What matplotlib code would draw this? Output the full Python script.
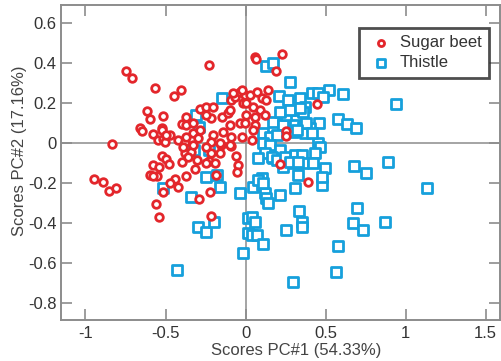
import numpy as np
import matplotlib.pyplot as plt

plt.rcParams['font.family'] = ['Liberation Sans', 'DejaVu Sans']

# PCA scores, sugar beet samples
beet_pc1 = [-0.228, -0.744, -0.709, -0.565, -0.403, -0.446, -0.617, -0.596, -0.513, -0.659,
            -0.646, -0.581, -0.521, -0.548, -0.513, -0.471, -0.836, -0.394, -0.425, -0.521,
            -0.500, -0.481, -0.575, -0.400, -0.598, -0.556, -0.442, -0.373, -0.948, -0.890,
            -0.856, -0.811, -0.542, -0.578, -0.515, -0.561, -0.540, -0.473, -0.421, -0.292,
            -0.225, -0.215, -0.504, -0.379, -0.338, -0.306, -0.313, -0.186, -0.213, -0.228,
            -0.192, -0.161, -0.156, -0.092, -0.061, -0.046, -0.053, -0.525, -0.494, -0.369,
            -0.369, -0.328, -0.328, -0.286, -0.296, -0.286, -0.244, -0.203, -0.213, -0.150,
            -0.140, -0.098, -0.109, -0.088, -0.067, -0.036, -0.004, -0.015, -0.036, -0.025,
            -0.088, -0.203, -0.213, -0.161, -0.379, -0.244, -0.328, -0.098, 0.058, 0.064,
            0.225, 0.189, 0.448, 0.027, 0.069, 0.100, 0.141, 0.131, 0.006, 0.048,
            0.089, 0.006, 0.058, 0.121, -0.004, 0.058, 0.048, 0.038, 0.256, 0.256,
            0.214, 0.391, -0.369, -0.390, -0.359, -0.244, -0.025, -0.078, -0.098, -0.244]
beet_pc2 = [0.390, 0.362, 0.325, 0.277, 0.264, 0.235, 0.162, 0.120, 0.134, 0.074,
            0.062, 0.044, 0.077, 0.015, 0.019, 0.040, -0.005, 0.094, 0.015, -0.065,
            -0.082, -0.105, -0.112, -0.095, -0.160, -0.165, -0.182, -0.164, -0.179, -0.197,
            -0.239, -0.227, -0.118, -0.165, -0.244, -0.305, -0.369, -0.202, -0.222, -0.279,
            -0.245, -0.365, 0.007, -0.052, -0.044, -0.085, -0.132, -0.160, -0.052, -0.089,
            -0.099, -0.052, -0.010, -0.015, -0.065, -0.110, -0.147, 0.065, 0.040, 0.132,
            0.090, 0.099, 0.049, 0.065, 0.024, 0.169, 0.182, 0.179, 0.124, 0.132,
            0.057, 0.090, 0.149, 0.215, 0.232, 0.257, 0.240, 0.199, 0.099, 0.032,
            0.032, 0.040, 0.007, -0.002, 0.007, -0.018, -0.010, -0.010, 0.432, 0.420,
            0.445, 0.360, 0.194, 0.240, 0.257, 0.224, 0.265, 0.215, 0.199, 0.182,
            0.165, 0.140, 0.132, 0.140, 0.099, 0.090, 0.065, 0.015, 0.060, 0.035,
            -0.105, -0.194, 0.032, -0.018, -0.068, -0.101, 0.265, 0.249, 0.165, 0.140]

# PCA scores, thistle samples
thistle_pc1 = [-0.144, -0.310, -0.290, -0.321, -0.228, -0.244, -0.181, -0.161, -0.338, -0.036,
               -0.515, -0.296, -0.244, -0.196, -0.431, -0.015, 0.016, 0.016, 0.048, 0.100,
               0.121, 0.131, 0.141, 0.214, 0.308, 0.038, 0.058, 0.038, 0.069, 0.110,
               0.256, 0.335, 0.356, 0.350, 0.294, 0.475, 1.131, 0.694, 0.673, 0.735,
               0.871, 0.579, 0.564, 0.127, 0.173, 0.277, 0.938, 0.210, 0.266, 0.339,
               0.413, 0.454, 0.521, 0.606, 0.485, 0.371, 0.246, 0.319, 0.360, 0.460,
               0.579, 0.635, 0.689, 0.173, 0.235, 0.308, 0.360, 0.402, 0.298, 0.371,
               0.454, 0.464, 0.433, 0.110, 0.152, 0.194, 0.110, 0.152, 0.214, 0.121,
               0.079, 0.173, 0.256, 0.308, 0.350, 0.298, 0.360, 0.423, 0.235, 0.496,
               0.677, 0.752, 0.891, 0.100, 0.329, 0.475, 0.256, 0.381, 0.319, 0.413,
               0.163, 0.194, 0.246, 0.277, 0.329, 0.079, 0.110, 0.214, 0.277, 0.339]
thistle_pc2 = [0.224, 0.140, 0.080, -0.035, -0.035, -0.169, -0.160, -0.218, -0.272, -0.252,
               -0.227, -0.419, -0.444, -0.397, -0.635, -0.552, -0.452, -0.377, -0.218, -0.210,
               -0.252, -0.277, -0.302, -0.260, -0.227, -0.372, -0.394, -0.460, -0.460, -0.507,
               -0.435, -0.339, -0.394, -0.419, -0.697, -0.210, -0.227, -0.327, -0.402, -0.435,
               -0.394, -0.514, -0.647, 0.385, 0.402, 0.307, 0.194, 0.237, 0.215, 0.224,
               0.249, 0.249, 0.265, 0.244, 0.232, 0.182, 0.149, 0.165, 0.157, 0.102,
               0.120, 0.094, 0.074, 0.107, 0.090, 0.090, 0.082, 0.074, 0.057, 0.049,
               -0.002, -0.018, -0.052, 0.049, 0.032, 0.040, -0.002, -0.010, -0.035, -0.052,
               -0.077, -0.077, -0.085, -0.060, -0.060, -0.102, -0.102, -0.102, -0.119, -0.127,
               -0.114, -0.149, -0.097, -0.177, -0.160, -0.169, 0.140, 0.099, 0.065, 0.049,
               -0.068, -0.085, -0.068, -0.094, -0.094, -0.185, -0.202, 0.157, 0.165, 0.174]

x_ticks = [-1, -0.5, 0, 0.5, 1, 1.5]
y_ticks = [-0.8, -0.6, -0.4, -0.2, 0, 0.2, 0.4, 0.6]

red = '#e3262b'
blue = '#16a0dc'
axis_grey = '#8c8c8c'

fig = plt.figure(figsize=(5.02, 3.61), dpi=100)
ax = fig.add_axes([0.1215, 0.1136, 0.8745, 0.8724])

ax.axhline(0, color=axis_grey, lw=1.1, zorder=0)
ax.axvline(0, color=axis_grey, lw=1.1, zorder=0)

ax.scatter(thistle_pc1, thistle_pc2, marker='s', s=52, facecolors='white',
           edgecolors=blue, linewidths=2.0, label='Thistle', zorder=2)
ax.scatter(beet_pc1, beet_pc2, marker='o', s=30, facecolors='white',
           edgecolors=red, linewidths=2.0, label='Sugar beet', zorder=3)

ax.set_xlim(-1.153, 1.59)
ax.set_ylim(-0.885, 0.69)
ax.set_xticks(x_ticks)
ax.set_xticklabels(['-1', '-0.5', '0', '0.5', '1', '1.5'])
ax.set_yticks(y_ticks)
ax.set_yticklabels(['-0.8', '-0.6', '-0.4', '-0.2', '0', '0.2', '0.4', '0.6'])

ax.tick_params(direction='in', length=8, width=1.2, color=axis_grey,
               top=True, right=True, labelsize=12, labelcolor='#333333')
ax.tick_params(axis='y', pad=3)
ax.tick_params(axis='x', pad=4)
for sp in ax.spines.values():
    sp.set_color(axis_grey)
    sp.set_linewidth(1.4)

ax.set_xlabel('Scores PC#1 (54.33%)', fontsize=12, color='#444444')
ax.set_ylabel('Scores PC#2 (17.16%)', fontsize=12, color='#444444')
ax.xaxis.set_label_coords(0.535, -0.073)
ax.yaxis.set_label_coords(-0.078, 0.537)

handles, labels = ax.get_legend_handles_labels()
leg = ax.legend(handles[::-1], labels[::-1], loc='upper right',
                bbox_to_anchor=(0.975, 0.928), fontsize=12, frameon=True,
                fancybox=False, handletextpad=0.2, borderpad=0.45,
                handlelength=1.8, labelspacing=0.3, markerscale=0.8,
                borderaxespad=0)
leg.get_frame().set_edgecolor('#222222')
leg.get_frame().set_linewidth(2.0)
for t in leg.get_texts():
    t.set_color('#333333')

fig.savefig('out.png', dpi=100)
